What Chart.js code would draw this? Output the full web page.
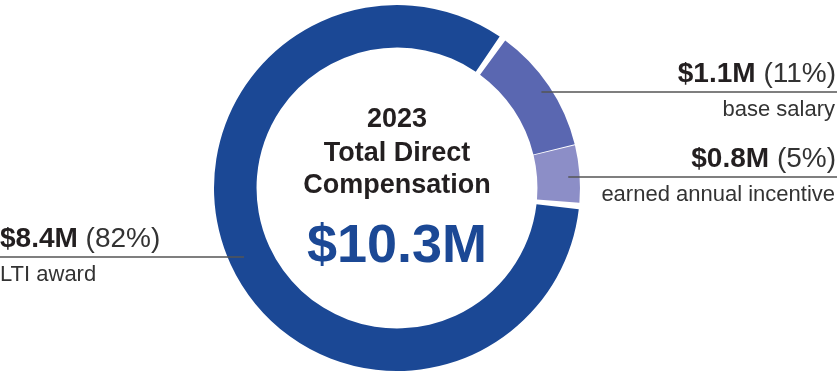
<!DOCTYPE html>
<html>
<head>
<meta charset="utf-8">
<script src="https://cdn.jsdelivr.net/npm/chart.js@4.4.1/dist/chart.umd.min.js"></script>
<style>
  html, body { margin: 0; padding: 0; background: #fff; }
  #wrap { position: relative; width: 837px; height: 376px; }
</style>
</head>
<body>
<div id="wrap"><canvas id="compChart" width="837" height="376"></canvas></div>
<script>
const categories = ['base salary', 'earned annual incentive', 'LTI award'];
const amounts = [1.1, 0.8, 8.4];      // $M
const percents = [11, 5, 82];         // share shown on chart
const colors = ['#5a67b1', '#8c8ec7', '#1b4895'];
const titleLines = ['2023', 'Total Direct', 'Compensation'];

// label placement: side and leader line y
const labelSpots = [
    { side: 'right', lineY: 92 },
    { side: 'right', lineY: 177 },
    { side: 'left', lineY: 257 }
];

const FONT = '"Liberation Sans", Arial, Helvetica, sans-serif';

const labelPlugin = {
    id: 'labelPlugin',
    afterDraw(chart) {
        const ctx = chart.ctx;
        const meta = chart.getDatasetMeta(0);
        const area = chart.chartArea;
        const cx = (area.left + area.right) / 2;
        const cy = (area.top + area.bottom) / 2;
        const W = chart.width;

        ctx.save();
        // center title
        ctx.fillStyle = '#231f20';
        ctx.textAlign = 'center';
        ctx.textBaseline = 'alphabetic';
        ctx.font = 'bold 27px ' + FONT;
        const ys = [-61, -27, 5];
        titleLines.forEach((t, i) => ctx.fillText(t, cx, cy + ys[i]));
        const total = amounts.reduce((a, b) => a + b, 0);
        ctx.fillStyle = colors[2];
        ctx.font = 'bold 54px ' + FONT;
        ctx.fillText('$' + total.toFixed(1) + 'M', cx, cy + 74);

        // labels + leader lines
        meta.data.forEach((arc, i) => {
            const pos = arc.tooltipPosition();
            const spot = labelSpots[i];
            const y = spot.lineY;
            ctx.strokeStyle = '#555';
            ctx.lineWidth = 1.3;
            ctx.beginPath();
            if (spot.side === 'right') {
                ctx.moveTo(pos.x + 10, y);
                ctx.lineTo(W, y);
            } else {
                ctx.moveTo(0, y);
                ctx.lineTo(pos.x - 6, y);
            }
            ctx.stroke();

            const bold = '$' + amounts[i].toFixed(1) + 'M';
            const reg = ' (' + percents[i] + '%)';
            ctx.textBaseline = 'alphabetic';
            ctx.textAlign = 'left';
            ctx.font = 'bold 28px ' + FONT;
            const bw = ctx.measureText(bold).width;
            ctx.font = '28px ' + FONT;
            const rw = ctx.measureText(reg).width;
            const x0 = spot.side === 'right' ? W - 1 - bw - rw : 0;
            ctx.fillStyle = '#231f20';
            ctx.font = 'bold 28px ' + FONT;
            ctx.fillText(bold, x0, y - 10);
            ctx.fillStyle = '#333';
            ctx.font = '28px ' + FONT;
            ctx.fillText(reg, x0 + bw, y - 10);

            ctx.font = '22px ' + FONT;
            ctx.fillStyle = '#333';
            ctx.textAlign = spot.side === 'right' ? 'right' : 'left';
            ctx.fillText(categories[i], spot.side === 'right' ? W - 2 : 0, y + 24);
        });
        ctx.restore();
    }
};

new Chart(document.getElementById('compChart'), {
    type: 'doughnut',
    data: {
        labels: categories,
        datasets: [{
            data: percents,
            backgroundColor: colors,
            borderWidth: 0,
            spacing: 4
        }]
    },
    options: {
        responsive: false,
        animation: false,
        rotation: 36,
        cutout: '76.5%',
        layout: {
            padding: { top: 5, bottom: 5, left: 0, right: 43 }
        },
        plugins: {
            legend: { display: false },
            tooltip: { enabled: false }
        }
    },
    plugins: [labelPlugin]
});
</script>
</body>
</html>
